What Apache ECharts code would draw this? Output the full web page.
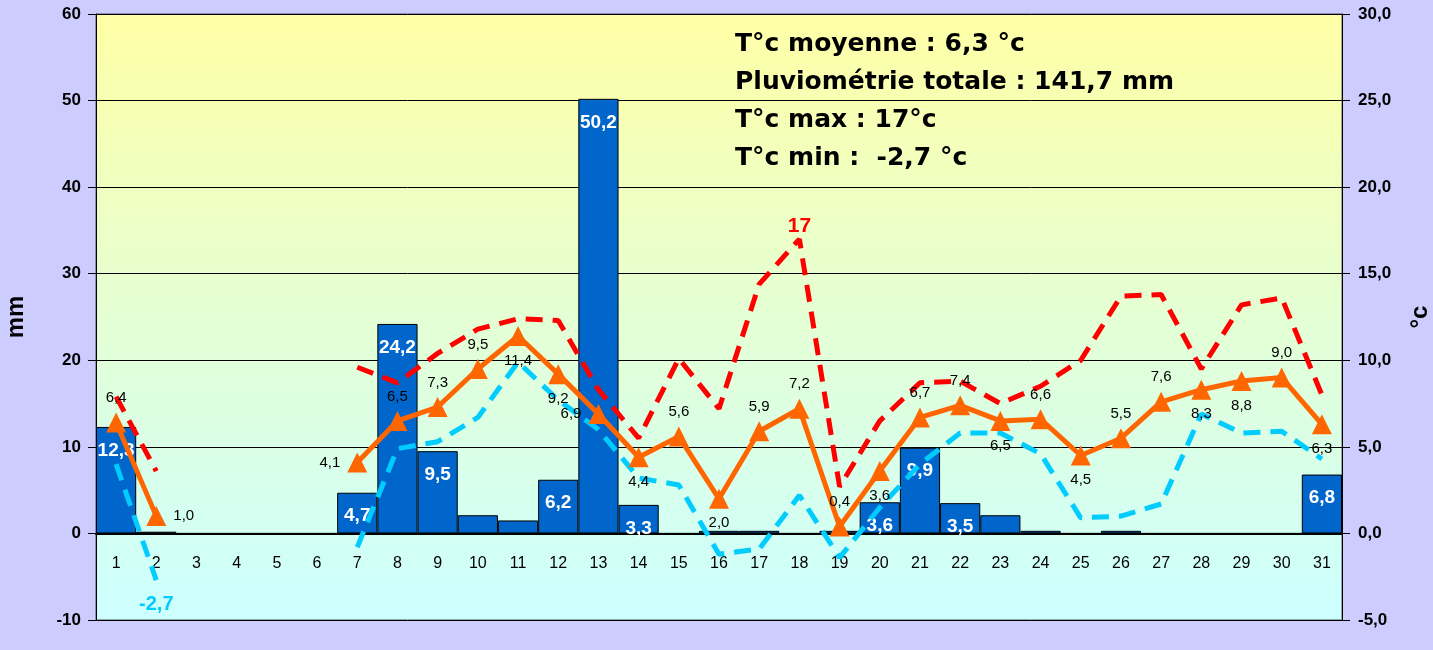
<!DOCTYPE html>
<html>
<head>
<meta charset="utf-8">
<script src="https://cdn.jsdelivr.net/npm/echarts@6/dist/echarts.min.js"></script>
<style>
  html, body { margin: 0; padding: 0; background: #ccccff; }
</style>
</head>
<body>
<div id="chart" style="width: 1433px; height: 650px"></div>
<script>
const days = ["1","2","3","4","5","6","7","8","9","10","11","12","13","14","15","16",
  "17","18","19","20","21","22","23","24","25","26","27","28","29","30","31"];
// pluie (mm)
const rain = [12.3, 0.2, 0, 0, 0, 0, 4.7, 24.2, 9.5, 2.1, 1.5, 6.2, 50.2, 3.3, 0, 0.3,
  0.3, 0, 0.3, 3.6, 9.9, 3.5, 2.1, 0.3, 0, 0.3, 0, 0, 0, 0, 6.8];
// T moyenne, max, min (°c)
const tMoy = [6.4, 1.0, null, null, null, null, 4.1, 6.5, 7.3, 9.5, 11.4, 9.2, 6.9, 4.4, 5.6, 2.0,
  5.9, 7.2, 0.4, 3.6, 6.7, 7.4, 6.5, 6.6, 4.5, 5.5, 7.6, 8.3, 8.8, 9.0, 6.3];
const tMax = [7.9, 3.6, null, null, null, null, 9.6, 8.7, 10.4, 11.8, 12.4, 12.3, 8.3, 5.5, 10.1, 7.2,
  14.4, 17, 2.7, 6.5, 8.7, 8.8, 7.5, 8.5, 10.0, 13.7, 13.8, 9.5, 13.2, 13.6, 8.0];
const tMin = [4.0, -2.7, null, null, null, null, -0.8, 4.9, 5.3, 6.7, 9.9, 7.7, 6.0, 3.2, 2.8, -1.2,
  -0.9, 2.2, -1.4, 1.5, 4.0, 5.8, 5.8, 4.6, 0.9, 1.0, 1.7, 6.9, 5.8, 5.9, 4.3];
const summary = [
  "T°c moyenne : 6,3 °c",
  "Pluviométrie totale : 141,7 mm",
  "T°c max : 17°c",
  "T°c min :  -2,7 °c",
];

// où placer les étiquettes de T moyenne
const belowDays = [11, 12, 14, 16, 20, 23, 25, 28, 29, 31];
const leftDays = [7, 13];
const rightDays = [2];

const fr = (v) => v.toFixed(1).replace(".", ",");

var chartDom = document.getElementById("chart");
var mychart = echarts.init(chartDom);

const maxIdx = tMax.indexOf(Math.max(...tMax.filter((v) => v !== null)));
const minIdx = tMin.indexOf(Math.min(...tMin.filter((v) => v !== null)));

const moyData = tMoy.map((v, i) => {
  let pos = "top";
  if (belowDays.includes(i + 1)) pos = "bottom";
  else if (leftDays.includes(i + 1)) pos = "left";
  else if (rightDays.includes(i + 1)) pos = "right";
  return { value: v, label: { position: pos } };
});
const maxData = tMax.map((v, i) =>
  i === maxIdx
    ? { value: v, label: { show: true, position: "top", distance: 2, formatter: String(v), color: "#ff0000", fontSize: 21, fontWeight: "bold" } }
    : v
);
const minData = tMin.map((v, i) =>
  i === minIdx
    ? { value: v, label: { show: true, position: "bottom", distance: 14, formatter: fr(v), color: "#00ccff", fontSize: 20, fontWeight: "bold" } }
    : v
);

var option = {
  backgroundColor: "#ccccff",
  textStyle: { fontFamily: "Liberation Sans, Arial, sans-serif" },
  grid: {
    left: 96,
    right: 91,
    top: 14,
    bottom: 30,
    outerBoundsMode: "none",
    containLabel: false,
    show: true,
    borderColor: "#555",
    borderWidth: 1,
    backgroundColor: new echarts.graphic.LinearGradient(0, 0, 0, 1, [
      { offset: 0, color: "#ffffa6" },
      { offset: 0.5, color: "#e4ffd4" },
      { offset: 1, color: "#ccffff" },
    ]),
  },
  xAxis: {
    type: "category",
    data: days,
    position: "bottom",
    offset: -86.6,
    axisLine: { onZero: false, lineStyle: { color: "#000", width: 2 } },
    axisTick: { inside: true, length: 6, interval: 0, lineStyle: { color: "#000" } },
    axisLabel: { interval: 0, margin: 22, fontSize: 16, color: "#000" },
  },
  yAxis: [
    {
      type: "value",
      min: -10,
      max: 60,
      interval: 10,
      name: "mm",
      nameLocation: "middle",
      nameRotate: 90,
      nameGap: 68,
      nameTextStyle: { fontSize: 24, fontWeight: "bold", color: "#000" },
      axisLine: { show: true, lineStyle: { color: "#000" } },
      axisTick: { show: true, length: 8, lineStyle: { color: "#000" } },
      axisLabel: { fontSize: 17, fontWeight: "bold", color: "#000", margin: 15 },
      splitLine: { show: true, lineStyle: { color: "#000", width: 1 } },
    },
    {
      type: "value",
      min: -5,
      max: 30,
      interval: 5,
      position: "right",
      name: "°c",
      nameLocation: "middle",
      nameRotate: 90,
      nameGap: 66,
      nameTextStyle: { fontSize: 24, fontWeight: "bold", color: "#000" },
      axisLine: { show: true, lineStyle: { color: "#000" } },
      axisTick: { show: true, length: 8, lineStyle: { color: "#000" } },
      axisLabel: { fontSize: 17, fontWeight: "bold", color: "#000", margin: 16, formatter: (v) => fr(v) },
      splitLine: { show: false },
    },
  ],
  series: [
    {
      name: "Pluie",
      type: "bar",
      yAxisIndex: 0,
      data: rain,
      barCategoryGap: "0%",
      itemStyle: { color: "#0066cc", borderColor: "#000", borderWidth: 1 },
      label: {
        show: true,
        position: "insideTop",
        distance: 14,
        color: "#fff",
        fontSize: 19,
        fontWeight: "bold",
        formatter: (p) => (p.value >= 3 ? fr(p.value) : ""),
      },
      z: 1,
    },
    {
      name: "T max",
      type: "line",
      yAxisIndex: 1,
      data: maxData,
      symbol: "circle",
      symbolSize: 0,
      lineStyle: { color: "#ff0000", width: 5, type: [17, 10] },
      z: 3,
    },
    {
      name: "T min",
      type: "line",
      yAxisIndex: 1,
      data: minData,
      symbol: "circle",
      symbolSize: 0,
      lineStyle: { color: "#00ccff", width: 5, type: [17, 10] },
      z: 3,
    },
    {
      name: "T moyenne",
      type: "line",
      yAxisIndex: 1,
      data: moyData,
      symbol: "triangle",
      symbolSize: 20,
      itemStyle: { color: "#ff6600" },
      lineStyle: { color: "#ff6600", width: 5 },
      label: {
        show: true,
        color: "#000",
        fontSize: 15,
        distance: 7,
        formatter: (p) => fr(p.value),
      },
      z: 4,
    },
  ],
  graphic: summary.map((t, i) => ({
    type: "text",
    left: 735,
    top: 32 + i * 38,
    z: 10,
    style: { text: t, fill: "#000", font: "bold 25px DejaVu Sans, Arial, sans-serif" },
  })),
};

mychart.setOption(option);
</script>
</body>
</html>
